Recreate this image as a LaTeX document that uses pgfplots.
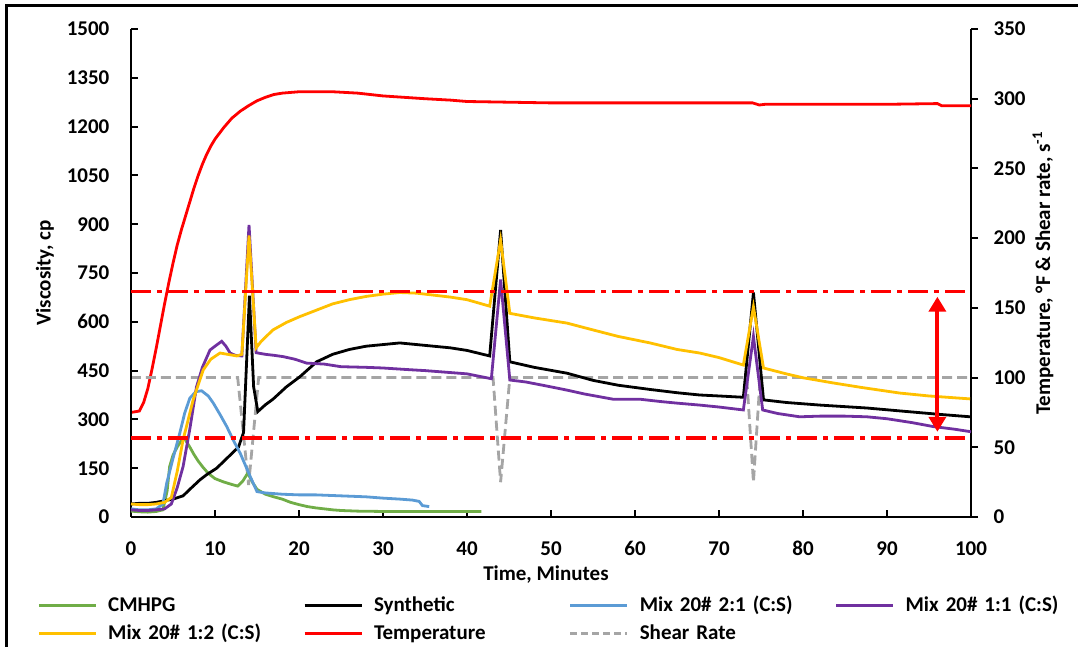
\documentclass[border=0pt]{standalone}
\usepackage{fontspec}
\setmainfont{Carlito}
\usepackage{pgfplots}
\pgfplotsset{compat=1.18}
\usetikzlibrary{arrows.meta}
\definecolor{cmhpg}{HTML}{70AD47}
\definecolor{mixa}{HTML}{5B9BD5}
\definecolor{mixb}{HTML}{7030A0}
\definecolor{mixc}{HTML}{FFC000}
\definecolor{shear}{HTML}{A5A5A5}
\begin{document}
\begin{tikzpicture}[font=\fontsize{10.5}{12}\selectfont\bfseries]
\pgfplotsset{
  base/.style={
    scale only axis, width=420pt, height=244pt, xmin=0, xmax=100,
    axis line style={line width=1pt},
    major tick style={line width=1pt, black}, major tick length=3.5pt,
    tick label style={font=\fontsize{10.5}{12}\selectfont\bfseries},
    label style={font=\fontsize{10.5}{12}\selectfont\bfseries},
    /pgf/number format/assume math mode=true,
    /pgf/number format/1000 sep={},
  },
  curve/.style={line width=1.4pt},
}
% temperature / shear rate axis (right)
\begin{axis}[base, ymin=0, ymax=350, ytick={0,50,...,350},
  axis y line*=right, axis x line=none, tick align=outside,
  yticklabel style={xshift=4.3pt},
  ylabel={Temperature, °F \& Shear rate, s\textsuperscript{-1}},
  ylabel style={at={(axis description cs:1.0857,0.5)}, anchor=center}]
  \addplot[red, curve] coordinates {
    (0,75) (1,76) (1.5,82) (2,92) (2.5,106) (3,121) (3.5,137) (4,153) (4.5,168)
    (5,182) (5.5,195) (6,206) (6.5,216) (7,226) (7.5,236) (8,245) (8.5,253)
    (9,260) (9.5,266) (10,271) (11,279) (12,286) (13,291) (14,295) (15,298.5)
    (16,301) (17,303) (18,304) (19,304.5) (20,305) (24,305) (27,304) (30,302)
    (35,300) (38,299) (40,298) (45,297.5) (50,297) (60,297) (70,297) (74,297)
    (74.8,295.5) (75.5,296) (80,296) (90,296) (96,296.5) (96.5,295) (100,295)};
  \addplot[shear, curve, dash pattern=on 5pt off 2.5pt] coordinates {
    (0,100) (12.7,100) (14,23) (15.2,100) (43.1,100) (44,25) (45.1,100)
    (73.3,100) (74.1,25) (74.9,100) (100,100)};
\end{axis}
% viscosity axis (left)
\begin{axis}[base, ymin=0, ymax=1500, ytick={0,150,...,1500}, xtick={0,10,...,100},
  axis x line*=bottom, axis y line*=left, tick align=inside,
  yticklabel style={xshift=-7.3pt}, xticklabel style={yshift=-8.7pt},
  xlabel={Time, Minutes}, ylabel={Viscosity, cp},
  xlabel style={at={(axis description cs:0.494,-0.1189)}, anchor=center},
  ylabel style={at={(axis description cs:-0.1024,0.5)}, anchor=center},
  legend columns=4,
  legend image code/.code={\draw[#1] (0pt,0.7pt) -- (28.5pt,0.7pt); \path (34pt,0pt);},
  legend style={at={(axis description cs:-0.1119,-0.1648)}, anchor=north west,
    draw=none, fill=none, inner sep=0pt, column sep=0pt, row sep=5pt,
    font=\fontsize{10.5}{12}\selectfont\bfseries,
    nodes={inner sep=0pt, text height=7pt, text depth=2pt, text width=97.5pt, align=left}}]
  \addplot[cmhpg, curve] coordinates {
    (0,18) (1,16) (2,15) (3,17) (3.8,22) (4.3,80) (4.6,155) (5,190) (5.5,215)
    (6,235) (6.4,240) (7,215) (7.5,192) (8,172) (8.5,155) (9,140) (9.5,128)
    (10,118) (11,108) (12,100) (12.7,95) (13.3,110) (13.9,135) (14.5,105)
    (15,85) (16,70) (17,62) (18,55) (19,45) (20,38) (21,32) (22,28) (23,25)
    (24,22) (25,20) (26,19) (27,18) (30,17) (35,17) (40,17) (41.7,17)};
  \addlegendentry{CMHPG}
  \addplot[black, curve] coordinates {
    (0,40) (1,42) (2,42) (3,45) (4,50) (5,55) (6.2,65) (7,85) (8.2,114) (9,130)
    (10.2,150) (11.2,175) (12.2,200) (12.8,215) (13.4,260) (14.1,680) (14.6,400)
    (15.1,324) (16,345) (16.9,362) (18.5,400) (20.1,431) (22.1,477) (24,500)
    (26,515) (28,525) (30,530) (32,535) (34,530) (36,525) (38,520) (40,512)
    (42.7,495) (44,882) (45.1,477) (48,460) (51.9,442) (55,420) (58,405)
    (61.8,392) (65,382) (67.7,375) (70,372) (72.9,368) (74.1,690) (75.3,360)
    (78,352) (82,344) (87.6,335) (92,325) (96,316) (99.9,308)};
  \addlegendentry{Synthetic}
  \addplot[mixa, curve] coordinates {
    (0,25) (1,22) (2,22) (3,25) (3.8,40) (4.25,104) (5,180) (5.8,257) (6.4,320)
    (7,365) (7.7,385) (8.4,388) (9.2,372) (9.8,350) (10.6,315) (11.4,278)
    (12.2,235) (13,196) (13.6,160) (14.2,124) (15,78) (16,74) (17,72) (18,70)
    (20,68) (22,68) (24,66) (26,64) (28,62) (30,58) (32,55) (33.5,52) (34.3,48)
    (34.7,35) (35.5,32)};
  \addlegendentry{Mix 20\# 2:1 (C:S)}
  \addplot[mixb, curve] coordinates {
    (0,22) (1,20) (2,20) (3,22) (4,25) (4.8,40) (5.5,90) (6.2,155) (7,270)
    (7.8,400) (8.5,460) (9.4,513) (10,525) (10.8,540) (11.3,525) (11.8,504)
    (12.4,497) (13.2,495) (14.05,898) (14.9,505) (16,500) (17,497) (18.1,493)
    (19.5,485) (20.9,473) (23,470) (25,462) (28,460) (30,458) (33,453) (35,450)
    (38,444) (40,440) (42.9,425) (44,730) (45.1,421) (47,415) (49,405)
    (51.9,390) (54,378) (57.4,362) (60.6,362) (63,355) (65,350) (67.7,344)
    (70,338) (72.9,329) (74.1,555) (75.2,329) (77,318) (79.6,308) (82,310)
    (85,310) (87.6,308) (90,302) (93,290) (95.5,278) (98,270) (100,262)};
  \addlegendentry{Mix 20\# 1:1 (C:S)}
  \addplot[mixc, curve] coordinates {
    (0,40) (1,38) (2,38) (3,40) (4,45) (4.8,60) (5.5,140) (6.2,237) (7.4,360)
    (8.6,452) (9.5,485) (10.6,504) (11.5,500) (12.6,495) (13.2,500) (14.05,865)
    (14.9,520) (15.5,540) (16.9,575) (18.5,598) (20.1,616) (22.1,636) (24,655)
    (26,668) (28,678) (30,685) (32,690) (34,688) (36,682) (38,676) (40,668)
    (42.7,648) (44,851) (45.1,626) (48,612) (51.9,596) (55,575) (58,555)
    (61.8,535) (65,515) (67.7,504) (70,490) (72.9,467) (74.1,646) (75.3,458)
    (78,440) (80,428) (83.6,412) (87,398) (91.5,381) (95,372) (99.9,363)};
  \addlegendentry{Mix 20\# 1:2 (C:S)}
  \addlegendimage{red, curve}
  \addlegendentry{Temperature}
  \addlegendimage{shear, curve, dash pattern=on 3.5pt off 2pt}
  \addlegendentry{Shear Rate}
  \addplot[red, line width=1.6pt, dash pattern=on 10pt off 3pt on 2.5pt off 3pt, forget plot]
    coordinates {(0,692) (100,692)};
  \addplot[red, line width=1.6pt, dash pattern=on 10pt off 3pt on 2.5pt off 3pt, forget plot]
    coordinates {(0,243) (100,243)};
  \draw[red, line width=2pt, {Triangle[width=8.5pt,length=7.5pt]}-{Triangle[width=8.5pt,length=7.5pt]}]
    (axis cs:96,677) -- (axis cs:96,262);
\end{axis}
\draw[line width=1.5pt] (-62pt,-70pt) -- (-62pt,255.5pt) -- (480pt,255.5pt);
\pgfresetboundingbox
\path (-65.5pt,-65pt) rectangle (473.5pt,258.5pt);
\end{tikzpicture}
\end{document}
